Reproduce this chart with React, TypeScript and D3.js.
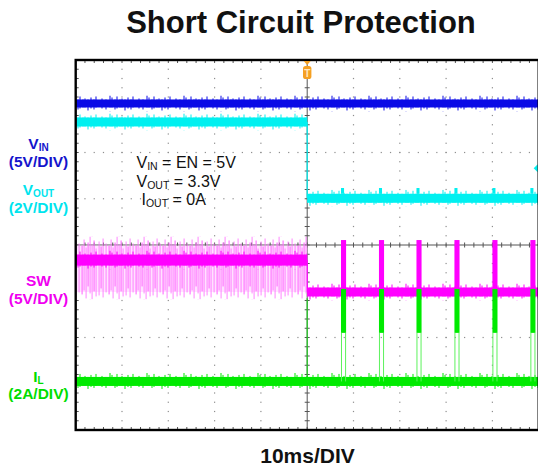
import React, { useEffect } from "react";
import * as d3 from "d3";

const WIDTH = 538;
const HEIGHT = 468;

// ---------------- data ----------------
const titleText = "Short Circuit Protection";
const xAxisText = "10ms/DIV";
const timeDomainMs = [-50, 50]; // 10 ms / div
const divDomain = [-4, 4];
const gridTimesMs = [-40, -30, -20, -10, 10, 20, 30, 40];
const gridDivs = [-3, -2, -1, 1, 2, 3];

// trace levels (volts / amps)
const vinLevels = [{ from: -50, to: 50, v: 5.0 }];
const voutLevels = [
  { from: -50, to: 0, v: 3.3 },
  { from: 0, to: 50, v: 0.0 },
];
const swLevels = [
  { from: -50, to: 0, v: 3.45 },
  { from: 0, to: 50, v: 0.0 },
];
const ilLevels = [
  { from: -50, to: 0, v: 0.0 },
  { from: 0, to: 50, v: 0.0 },
];

// hiccup pulses after the short
const pulseStartsMs = [7.3, 15.5, 23.6, 31.8, 40.0, 48.2];
const pulseWidthMs = 1.1;
const swPulseHighV = 5.4;
const ilPulseHighA = 4.0;
const ilPulseLowA = 2.1;
const voutBlipV = 0.25;
const ilFaultSpikeA = 3.6;
const swRippleHighV = 6.0;
const swRippleLowV = -0.8;

const channelNames = [
  { key: "vin", main: "V", sub: "IN", scale: "(5V/DIV)" },
  { key: "vout", main: "V", sub: "OUT", scale: "(2V/DIV)" },
  { key: "sw", main: "SW", sub: "", scale: "(5V/DIV)" },
  { key: "il", main: "I", sub: "L", scale: "(2A/DIV)" },
];

const annotationLines = [
  ["V", "IN", " = EN = 5V"],
  ["V", "OUT", " = 3.3V"],
  ["I", "OUT", " = 0A"],
];

// ---------------- styles ----------------
const COLORS: Record<string, string> = {
  vin: "#0a0ae6",
  vout: "#00f0f0",
  sw: "#ff00ff",
  il: "#00ea00",
};
const LABEL_COLORS: Record<string, string> = {
  vin: "#1414cc",
  vout: "#00e4ee",
  sw: "#f000f0",
  il: "#00dd00",
};
const LABEL_Y: Record<string, [number, number]> = {
  vin: [149, 167],
  vout: [195, 213],
  sw: [286, 304],
  il: [382, 399],
};

const FONT = "'Liberation Sans', Arial, Helvetica, sans-serif";

// decorative noise texture: [dx, extra above, extra below]
const NOISE_TEX: [number, number, number][] = [
  [0.5, 2, 0],
  [3.5, 0, 2],
  [5.5, 3, 1],
  [8.5, 0, 0],
  [10.5, 1, 0],
  [13.5, 0, 3],
  [16.5, 2, 1],
  [19.5, 0, 2],
  [21.5, 3, 0],
  [27.5, 1, 1],
  [31.5, 0, 2],
  [35.5, 4, 0],
];
const NOISE_TILE = 37;
const EXT = 4;

// pink switching texture: [dx, top, bottom] relative to region top
const PINK_TEX: [number, number, number][] = [
  [0.5, 9, 58],
  [2.5, 3, 54],
  [4.5, 11, 62],
  [6.5, 6, 50],
  [8.5, 0, 57],
  [10.5, 8, 63],
  [12.5, 4, 55],
  [14.5, 12, 60],
  [17.5, 5, 59],
  [19.5, 10, 52],
  [21.5, 2, 61],
  [24.5, 7, 56],
];
const PINK_TILE = 27;

export default function App() {
  useEffect(() => {
    document.body.style.margin = "0";
  }, []);

  const x = d3.scaleLinear().domain(timeDomainMs).range([75.7, 538.7]);
  const yDiv = d3.scaleLinear().domain(divDomain).range([430, 60]);
  const ch: Record<string, { perDiv: number; offset: number }> = {
    vin: { perDiv: 5, offset: 2.06 },
    vout: { perDiv: 2, offset: 1.01 },
    sw: { perDiv: 5, offset: -1.016 },
    il: { perDiv: 2, offset: -2.95 },
  };
  const yOf = (k: string, v: number) => yDiv(ch[k].offset + v / ch[k].perDiv);

  const x0 = x(timeDomainMs[0]);
  const x1 = x(timeDomainMs[1]);
  const yTop = yDiv(divDomain[1]);
  const yBot = yDiv(divDomain[0]);
  const xMid = x(0);
  const yMid = yDiv(0);

  const minorT = d3.range(timeDomainMs[0], timeDomainMs[1] + 0.001, 2);
  const minorD = d3.range(divDomain[0], divDomain[1] + 0.001, 0.2);

  const thickness: Record<string, number> = { vin: 8, vout: 9, sw: 9, il: 9 };

  const patterns: React.ReactNode[] = [];

  const band = (k: string, levels: { from: number; to: number; v: number }[], thick?: (i: number) => number) => {
    const out: React.ReactNode[] = [];
    levels.forEach((s, i) => {
      const th = thick ? thick(i) : thickness[k];
      const yc = yOf(k, s.v);
      const top = yc - th / 2;
      const id = `noise-${k}-${i}`;
      patterns.push(
        <pattern key={id} id={id} patternUnits="userSpaceOnUse" x={0} y={top - EXT} width={NOISE_TILE} height={th + 2 * EXT}>
          {NOISE_TEX.map(([dx, up, dn], j) => (
            <rect key={j} x={dx} y={EXT - up} width={1} height={th + up + dn} fill={COLORS[k]} />
          ))}
        </pattern>
      );
      out.push(
        <g key={`${k}-${i}`}>
          <rect x={x(s.from)} y={top} width={x(s.to) - x(s.from)} height={th} fill={COLORS[k]} />
          <rect x={x(s.from)} y={top - EXT} width={x(s.to) - x(s.from)} height={th + 2 * EXT} fill={`url(#${id})`} />
        </g>
      );
      if (i > 0) {
        const prev = levels[i - 1];
        out.push(
          <line key={`${k}-tr-${i}`} x1={x(s.from)} x2={x(s.from)} y1={yOf(k, prev.v)} y2={yc} stroke={COLORS[k]} strokeWidth={1.2} />
        );
      }
    });
    return out;
  };

  // pink switching region (pre-fault SW)
  const pinkTop = yOf("sw", swRippleHighV);
  const pinkBot = yOf("sw", swRippleLowV);
  patterns.push(
    <pattern key="pink" id="pink" patternUnits="userSpaceOnUse" x={0} y={pinkTop} width={PINK_TILE} height={pinkBot - pinkTop}>
      {PINK_TEX.map(([dx, t, b], j) => (
        <rect key={j} x={dx} y={t} width={1.2} height={b - t} fill="#ff70ff" opacity={j % 3 === 0 ? 0.95 : 0.7} />
      ))}
    </pattern>
  );

  const swPre = swLevels[0];

  return (
    <svg width={WIDTH} height={HEIGHT} style={{ position: "absolute", left: 0, top: 0, background: "#fff" }} fontFamily={FONT}>
      <defs>{patterns}</defs>
      <rect x={0} y={0} width={WIDTH} height={HEIGHT} fill="#fff" />

      {/* title */}
      <text x={301} y={33} textAnchor="middle" fontSize={31} fontWeight="bold" fill="#111">
        {titleText}
      </text>

      {/* dotted grid */}
      <g fill="#8e8e8e">
        {gridTimesMs.map((t) =>
          minorD.map((d, j) => <rect key={`v${t}-${j}`} x={x(t) - 0.6} y={yDiv(d) - 0.6} width={1.2} height={1.2} />)
        )}
        {gridDivs.map((d) =>
          minorT.map((t, j) => <rect key={`h${d}-${j}`} x={x(t) - 0.6} y={yDiv(d) - 0.6} width={1.2} height={1.2} />)
        )}
      </g>

      {/* centre lines with ticks */}
      <g stroke="#555" strokeWidth={1}>
        <line x1={xMid} x2={xMid} y1={yTop} y2={yBot} />
        <line x1={x0} x2={x1} y1={yMid} y2={yMid} />
        {minorD.map((d, j) => (
          <line key={`ct${j}`} x1={xMid - 2.5} x2={xMid + 2.5} y1={yDiv(d)} y2={yDiv(d)} />
        ))}
        {minorT.map((t, j) => (
          <line key={`ch${j}`} x1={x(t)} x2={x(t)} y1={yMid - 2.5} y2={yMid + 2.5} />
        ))}
        {minorT.map((t, j) => (
          <line key={`ft${j}`} x1={x(t)} x2={x(t)} y1={yTop} y2={yTop + 3} />
        ))}
        {minorT.map((t, j) => (
          <line key={`fb${j}`} x1={x(t)} x2={x(t)} y1={yBot} y2={yBot - 3} />
        ))}
        {minorD.map((d, j) => (
          <line key={`fl${j}`} x1={x0} x2={x0 + 3} y1={yDiv(d)} y2={yDiv(d)} />
        ))}
      </g>

      {/* VIN */}
      {band("vin", vinLevels)}

      {/* VOUT */}
      {band("vout", voutLevels)}
      {pulseStartsMs.map((t, i) => (
        <rect
          key={`vb${i}`}
          x={x(t)}
          y={yOf("vout", voutBlipV) - thickness.vout / 2}
          width={x(t + pulseWidthMs * 0.6) - x(t)}
          height={yOf("vout", 0) - yOf("vout", voutBlipV)}
          fill={COLORS.vout}
        />
      ))}
      <path
        d={`M${x(50) - 1},${yDiv(1.66) - 4} L${x(50) - 5},${yDiv(1.66)} L${x(50) - 1},${yDiv(1.66) + 4} Z`}
        fill={COLORS.vout}
      />

      {/* IL fault spike at t=0 */}
      <line x1={xMid} x2={xMid} y1={yOf("il", 0)} y2={yOf("il", ilFaultSpikeA)} stroke="#22cc22" strokeWidth={1.2} />

      {/* SW */}
      <rect x={x(swPre.from)} y={yOf("sw", 5.0)} width={x(swPre.to) - x(swPre.from)} height={yOf("sw", 0) - yOf("sw", 5.0)} fill="#ffe2ff" />
      <rect x={x(swPre.from)} y={pinkTop} width={x(swPre.to) - x(swPre.from)} height={pinkBot - pinkTop} fill="url(#pink)" />
      {band("sw", swLevels, (i) => (i === 0 ? 11 : 9))}
      {pulseStartsMs.map((t, i) => (
        <rect
          key={`sp${i}`}
          x={x(t)}
          y={yOf("sw", swPulseHighV) - 2}
          width={x(t + pulseWidthMs) - x(t)}
          height={yOf("sw", 0) - yOf("sw", swPulseHighV) + 2}
          fill={COLORS.sw}
        />
      ))}

      {/* IL */}
      {band("il", ilLevels)}
      {pulseStartsMs.map((t, i) => {
        const xa = x(t);
        const xb = x(t + pulseWidthMs);
        return (
          <g key={`ip${i}`}>
            <rect x={xa} y={yOf("il", ilPulseHighA)} width={xb - xa} height={yOf("il", ilPulseLowA) - yOf("il", ilPulseHighA)} fill={COLORS.il} />
            <line x1={xa + 0.5} x2={xa + 0.5} y1={yOf("il", 0)} y2={yOf("il", ilPulseLowA)} stroke="#5cf25c" strokeWidth={1} />
            <line x1={xb - 0.5} x2={xb - 0.5} y1={yOf("il", 0)} y2={yOf("il", ilPulseLowA)} stroke="#5cf25c" strokeWidth={1} />
          </g>
        );
      })}

      {/* frame */}
      <rect x={x0} y={yTop} width={x1 - x0} height={yBot - yTop} fill="none" stroke="#000" strokeWidth={2.4} />

      {/* trigger marker */}
      <g>
        <path d={`M${xMid - 3.5},${yTop + 1} L${xMid + 3.5},${yTop + 1} L${xMid},${yTop + 5} Z`} fill="#f5a023" />
        <rect x={xMid - 4.2} y={yTop + 6} width={8.4} height={13} rx={2.5} fill="#f5a023" />
        <text x={xMid} y={yTop + 16.5} textAnchor="middle" fontSize={10} fontWeight="bold" fill="#ffe7c0">
          T
        </text>
      </g>

      {/* annotation */}
      <g fontSize={16} fill="#111">
        {annotationLines.map((l, i) => (
          <text key={i} x={i === 2 ? 141.5 : 136.5} y={168 + i * 18.5}>
            {l[0]}
            <tspan fontSize={10.5} dy={2}>
              {l[1]}
            </tspan>
            <tspan dy={-2}>{l[2]}</tspan>
          </text>
        ))}
      </g>

      {/* channel labels */}
      <g fontWeight="bold" textAnchor="middle">
        {channelNames.map((c) => (
          <g key={c.key} fill={LABEL_COLORS[c.key]}>
            <text x={38.5} y={LABEL_Y[c.key][0]} fontSize={15.5}>
              {c.main}
              {c.sub ? (
                <tspan fontSize={10} dy={2}>
                  {c.sub}
                </tspan>
              ) : null}
            </text>
            <text x={38.5} y={LABEL_Y[c.key][1]} fontSize={15.5}>
              {c.scale}
            </text>
          </g>
        ))}
      </g>

      {/* x axis label */}
      <text x={307.5} y={463} textAnchor="middle" fontSize={21} fontWeight="bold" fill="#111">
        {xAxisText}
      </text>
    </svg>
  );
}
